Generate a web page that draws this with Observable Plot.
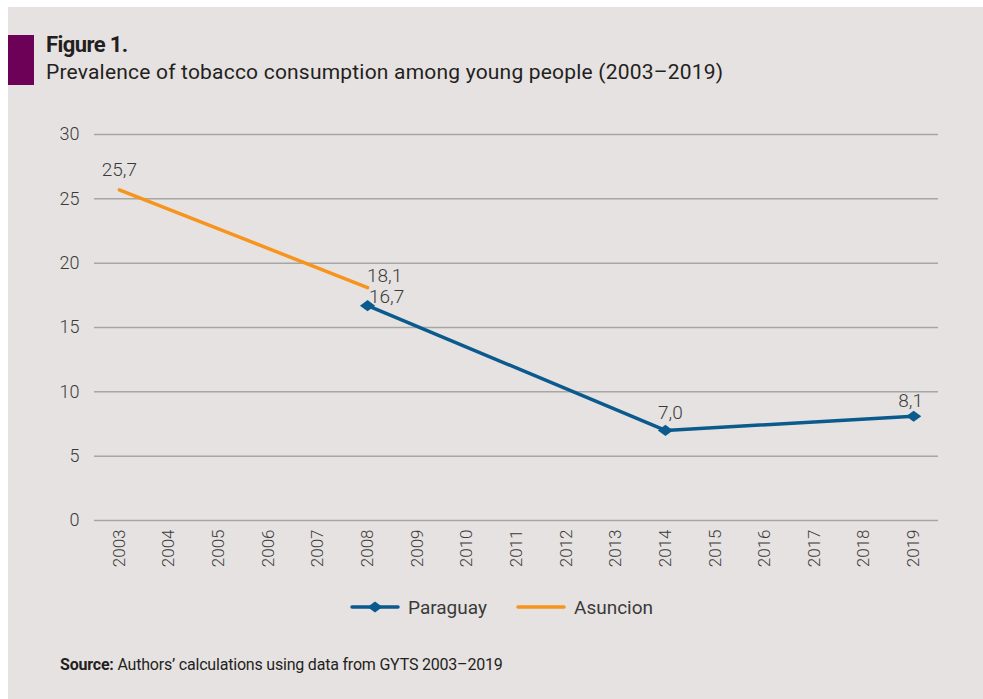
<!DOCTYPE html>
<html>
<head>
<meta charset="utf-8">
<script src="https://cdn.jsdelivr.net/npm/d3@7"></script>
<script src="https://cdn.jsdelivr.net/npm/@observablehq/plot@0.6"></script>
<style>
  html, body { margin: 0; padding: 0; background: #ffffff; }
  body { width: 983px; height: 699px; position: relative; overflow: hidden; font-family: Roboto, "Open Sans", sans-serif; }
  #panel { position: absolute; left: 8px; top: 7px; right: 0; bottom: 0; background: #e6e2e1; }
  #bar { position: absolute; left: 8px; top: 35px; width: 26px; height: 50px; background: #6d0057; }
  #title { position: absolute; left: 46px; top: 32px; font-size: 22px; font-weight: 700; color: #231f20; letter-spacing: -0.6px; }
  #subtitle { position: absolute; left: 46px; top: 60px; font-size: 21px; font-weight: 400; color: #231f20; letter-spacing: 0.2px; }
  #chart { position: absolute; left: 0; top: 100px; }
  #legend { position: absolute; top: 594px; left: 0; width: 983px; font-size: 19px; color: #3a3a3a; }
  .item { position: absolute; top: 0; display: flex; align-items: center; height: 26px; }
  .item svg { margin-right: 8px; }
  #source { position: absolute; left: 60px; top: 655px; font-size: 16px; color: #231f20; letter-spacing: -0.2px; }
</style>
</head>
<body>
<div id="panel"></div>
<div id="bar"></div>
<div id="title">Figure 1.</div>
<div id="subtitle">Prevalence of tobacco consumption among young people (2003–2019)</div>
<div id="chart"></div>
<div id="legend"></div>
<div id="source"><b>Source:</b> Authors’ calculations using data from GYTS 2003–2019</div>
<script>
// Survey years on the x axis
const years = ["2003","2004","2005","2006","2007","2008","2009","2010","2011","2012","2013","2014","2015","2016","2017","2018","2019"];
// Paraguay (national) prevalence, %
const paraguayYears = ["2008", "2014", "2019"];
const paraguayValues = [16.7, 7.0, 8.1];
// Asuncion prevalence, %
const asuncionYears = ["2003", "2008"];
const asuncionValues = [25.7, 18.1];
// Y axis ticks
const yTicks = [0, 5, 10, 15, 20, 25, 30];

const BLUE = "#0b5a8e";
const ORANGE = "#f7941d";

const paraguay = paraguayYears.map((year, i) => ({year, value: paraguayValues[i], series: "Paraguay"}));
const asuncion = asuncionYears.map((year, i) => ({year, value: asuncionValues[i], series: "Asuncion"}));

const fmt = v => v.toFixed(1).replace(".", ",");

// A diamond a little wider than it is tall, for the line markers
const wideDiamond = {
  draw(context, size) {
    const h = Math.sqrt(size) / 2;
    const w = h * 1.36;
    context.moveTo(0, -h);
    context.lineTo(w, 0);
    context.lineTo(0, h);
    context.lineTo(-w, 0);
    context.closePath();
  }
};

const labelStyle = {fontSize: 19, fill: "#3a3a3a", fontWeight: 300, text: d => fmt(d.value)};

const chart = Plot.plot({
  width: 983,
  height: 480,
  marginTop: 34,
  marginBottom: 60,
  marginLeft: 94,
  marginRight: 45,
  style: {background: "transparent", fontFamily: "Roboto, sans-serif", color: "#3a3a3a"},
  x: {type: "point", domain: years, padding: 0.5, round: false},
  y: {domain: [0, 30], ticks: yTicks},
  marks: [
    Plot.ruleY(yTicks, {stroke: "#a6a6a6", strokeWidth: 1.5}),
    Plot.axisY(yTicks, {tickSize: 0, tickPadding: 15, fontSize: 18, fontWeight: 300, label: null}),
    Plot.axisX({tickSize: 0, tickPadding: 9, tickRotate: -90, fontSize: 17, fontWeight: 300, label: null}),
    Plot.line(asuncion, {x: "year", y: "value", stroke: ORANGE, strokeWidth: 3.5}),
    Plot.line(paraguay, {x: "year", y: "value", stroke: BLUE, strokeWidth: 3.5}),
    Plot.dot(paraguay, {x: "year", y: "value", symbol: wideDiamond, r: 6.3, fill: BLUE}),
    // value labels
    Plot.text(asuncion, {...labelStyle, x: "year", y: "value", filter: d => d.year === "2003", dy: -20}),
    Plot.text(asuncion, {...labelStyle, x: "year", y: "value", filter: d => d.year === "2008", dx: 17, dy: -12}),
    Plot.text(paraguay, {...labelStyle, x: "year", y: "value", filter: d => d.year === "2008", dx: 19, dy: -9}),
    Plot.text(paraguay, {...labelStyle, x: "year", y: "value", filter: d => d.year === "2014", dx: 5, dy: -18}),
    Plot.text(paraguay, {...labelStyle, x: "year", y: "value", filter: d => d.year === "2019", dx: -3, dy: -15})
  ]
});
document.getElementById("chart").appendChild(chart);

// Legend
const legend = document.getElementById("legend");
const entries = [
  {name: "Paraguay", color: BLUE, marker: true, left: 350},
  {name: "Asuncion", color: ORANGE, marker: false, left: 516}
];
for (const e of entries) {
  const item = document.createElement("div");
  item.className = "item";
  item.style.left = e.left + "px";
  const svg = d3.create("svg").attr("width", 50).attr("height", 14);
  svg.append("line").attr("x1", 2).attr("x2", 48).attr("y1", 7).attr("y2", 7)
    .attr("stroke", e.color).attr("stroke-width", 3.5).attr("stroke-linecap", "round");
  if (e.marker) svg.append("path").attr("d", d3.symbol(wideDiamond, 121)())
    .attr("transform", "translate(25,7)").attr("fill", e.color);
  item.appendChild(svg.node());
  const t = document.createElement("span");
  t.textContent = e.name;
  item.appendChild(t);
  legend.appendChild(item);
}
</script>
</body>
</html>
